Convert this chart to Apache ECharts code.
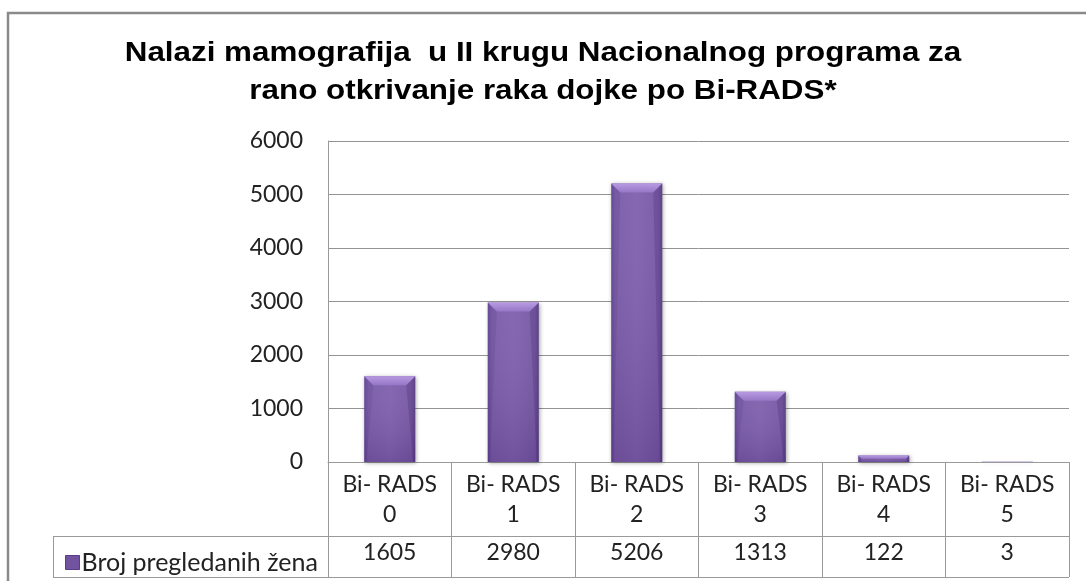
<!DOCTYPE html>
<html>
<head>
<meta charset="utf-8">
<script src="https://cdn.jsdelivr.net/npm/echarts@6/dist/echarts.min.js"></script>
<style>
  html, body { margin: 0; padding: 0; background: #fff; }
  #chart { width: 1086px; height: 581px; }
</style>
</head>
<body>
<div id="chart"></div>
<script>
// Data
const titleLines = ['Nalazi mamografija  u II krugu Nacionalnog programa za', 'rano otkrivanje raka dojke po Bi-RADS*'];
const categoryNames = ['Bi- RADS\n0', 'Bi- RADS\n1', 'Bi- RADS\n2', 'Bi- RADS\n3', 'Bi- RADS\n4', 'Bi- RADS\n5'];
const seriesName = 'Broj pregledanih žena';
const counts = [1605, 2980, 5206, 1313, 122, 3];
const yTicks = { min: 0, max: 6000, interval: 1000 };

// Layout
const W = 1086, H = 581;
const grid = { left: 328, right: 17, top: 141, bottom: 119 };
const tableRowY = 536;     // line between category row and value row
const tableBottomY = 577;  // bottom edge of the data table
const tableLeftX = 53;     // left edge of the series-name cell
const BAR_RATIO = 0.413;
const lineColor = '#9a9a9a';
const bodyFont = 'Lato, "Open Sans", sans-serif';
const bodySize = 23;

const chart = echarts.init(document.getElementById('chart'), null, { renderer: 'canvas' });

// Bevelled bar: body with soft side shading, light top facet, drop shadow
function renderBar(params, api) {
  const idx = api.value(0);
  const v = api.value(1);
  const top = api.coord([idx, v]);
  const base = api.coord([idx, 0]);
  const bw = api.size([1, 0])[0] * BAR_RATIO;
  const l = top[0] - bw / 2, r = top[0] + bw / 2, t = top[1], b = base[1];
  const h = b - t;
  const bev = Math.max(0, Math.min(9, h / 2, bw / 2));
  const side = Math.max(0, Math.min(2, h / 2));
  const bodyGrad = new echarts.graphic.LinearGradient(0, 0, 1, 0, [
    { offset: 0, color: '#66479a' },
    { offset: 0.08, color: '#7859a8' },
    { offset: 0.5, color: '#7f5fad' },
    { offset: 0.92, color: '#7556a4' },
    { offset: 1, color: '#62448f' }
  ]);
  const vertShade = new echarts.graphic.LinearGradient(0, 0, 0, 1, [
    { offset: 0, color: 'rgba(255,255,255,0.05)' },
    { offset: 1, color: 'rgba(40,15,70,0.16)' }
  ]);
  const bevelGrad = new echarts.graphic.LinearGradient(0, 0, 0, 1, [
    { offset: 0, color: '#b89ae2' },
    { offset: 1, color: '#9676c6' }
  ]);
  return {
    type: 'group',
    children: [
      {
        type: 'rect',
        shape: { x: l, y: t, width: bw, height: h },
        style: { fill: bodyGrad, shadowBlur: 4, shadowColor: 'rgba(0,0,0,0.35)', shadowOffsetX: 1, shadowOffsetY: 1 }
      },
      {
        type: 'rect',
        shape: { x: l, y: t, width: bw, height: h },
        style: { fill: vertShade }
      },
      {
        type: 'polygon',
        shape: { points: [[l, t], [r, t], [r - bev, t + bev], [l + bev, t + bev]] },
        style: { fill: h < 3 ? '#c4b0e4' : bevelGrad }
      },
      {
        type: 'polygon',
        shape: { points: [[l, t], [l + bev, t + bev], [l + side, b], [l, b]] },
        style: { fill: 'rgba(60,30,100,0.12)' }
      },
      {
        type: 'polygon',
        shape: { points: [[r, t], [r - bev, t + bev], [r - side, b], [r, b]] },
        style: { fill: 'rgba(50,25,90,0.2)' }
      }
    ]
  };
}

const option = {
  backgroundColor: '#ffffff',
  animation: false,
  legend: {
    show: true,
    left: 60,
    top: 545,
    icon: 'rect',
    itemWidth: 14,
    itemHeight: 14,
    itemGap: 4,
    selectedMode: false,
    data: [{ name: seriesName, itemStyle: { color: '#7253a0', borderColor: '#5a3d86', borderWidth: 1 } }],
    textStyle: { fontFamily: bodyFont, fontSize: 25, color: '#222', padding: [0, 0, 0, -3] }
  },
  grid: { left: grid.left, right: grid.right, top: grid.top, bottom: grid.bottom, containLabel: false },
  xAxis: {
    type: 'category',
    data: categoryNames,
    axisLine: { show: true, lineStyle: { color: lineColor, width: 1 } },
    axisTick: { show: true, length: tableBottomY - (H - grid.bottom), alignWithLabel: false, interval: 0, lineStyle: { color: lineColor } },
    axisLabel: {
      interval: 0,
      margin: 8,
      formatter: function (val, i) {
        const parts = val.split('\n');
        return '{c|' + parts[0] + '}\n{c|' + parts[1] + '}\n{v|' + counts[i] + '}';
      },
      rich: {
        c: { fontFamily: bodyFont, fontSize: bodySize, color: '#222', lineHeight: 30, align: 'center' },
        v: { fontFamily: bodyFont, fontSize: bodySize, color: '#222', lineHeight: 46, align: 'center' }
      }
    },
    splitLine: { show: false }
  },
  yAxis: {
    type: 'value',
    min: yTicks.min,
    max: yTicks.max,
    interval: yTicks.interval,
    axisLine: { show: true, lineStyle: { color: lineColor, width: 1 } },
    axisTick: { show: false },
    axisLabel: { margin: 25, fontFamily: bodyFont, fontSize: bodySize, color: '#222', formatter: v => String(v) },
    splitLine: { show: true, lineStyle: { color: '#939393', width: 1 } }
  },
  series: [{
    type: 'custom',
    name: seriesName,
    renderItem: renderBar,
    encode: { x: 0, y: 1 },
    data: counts.map((c, i) => [i, c]),
    itemStyle: { color: '#7253a0' },
    clip: false
  }],
  graphic: [
    // outer chart frame
    { type: 'rect', shape: { x: 8, y: 13, width: W + 20, height: H + 20 }, style: { fill: null, stroke: '#8a8a8a', lineWidth: 2.5 }, z: 0 },
    // chart title, slightly widened lettering
    {
      type: 'text',
      x: W / 2,
      y: 34,
      scaleX: 1.12,
      originX: 0,
      style: {
        text: titleLines.join('\n'),
        align: 'center',
        verticalAlign: 'top',
        font: 'bold 28px "Liberation Sans", Arial, sans-serif',
        lineHeight: 38,
        fill: '#000'
      }
    },
    // data table lines
    { type: 'line', shape: { x1: tableLeftX, y1: tableRowY + 0.5, x2: W - grid.right, y2: tableRowY + 0.5 }, style: { stroke: lineColor, lineWidth: 1 } },
    { type: 'line', shape: { x1: tableLeftX, y1: tableBottomY + 0.5, x2: W - grid.right, y2: tableBottomY + 0.5 }, style: { stroke: lineColor, lineWidth: 1 } },
    { type: 'line', shape: { x1: tableLeftX + 0.5, y1: tableRowY, x2: tableLeftX + 0.5, y2: tableBottomY }, style: { stroke: lineColor, lineWidth: 1 } }
  ]
};

chart.setOption(option);
</script>
</body>
</html>
